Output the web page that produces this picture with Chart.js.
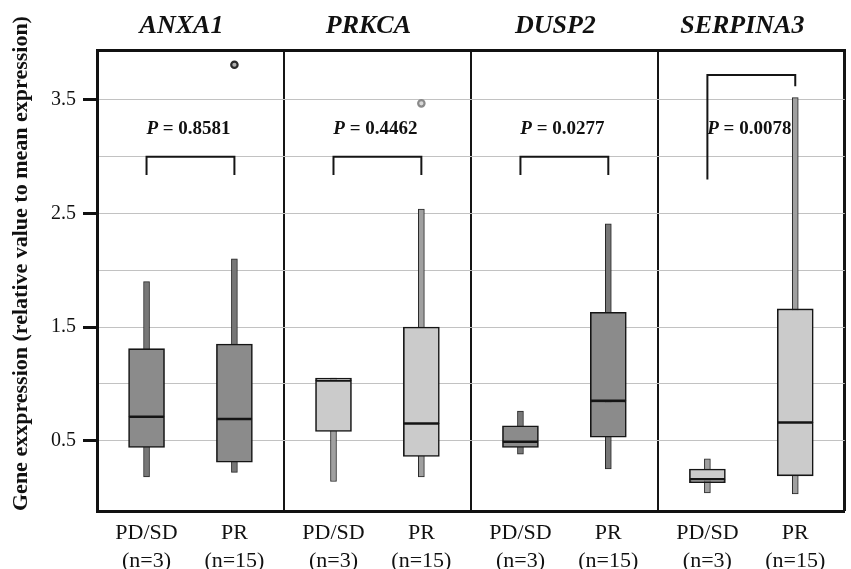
<!DOCTYPE html>
<html>
<head>
<meta charset="utf-8">
<script src="https://cdn.jsdelivr.net/npm/chart.js@4/dist/chart.umd.min.js"></script>
<style>
html,body{margin:0;padding:0;background:#ffffff;}
#wrap{width:851px;height:569px;position:relative;}
</style>
</head>
<body>
<div id="wrap"><canvas id="c"></canvas></div>
<script>
// ---- data ----
const genes = ['ANXA1', 'PRKCA', 'DUSP2', 'SERPINA3'];
const groups = ['PD/SD', 'PR'];
const groupN = ['(n=3)', '(n=15)'];

const pdsdMin    = [0.18, 0.14, 0.38, 0.04];
const pdsdQ1     = [0.44, 0.58, 0.44, 0.13];
const pdsdMedian = [0.71, 1.03, 0.49, 0.16];
const pdsdQ3     = [1.31, 1.05, 0.63, 0.25];
const pdsdMax    = [1.90, 1.05, 0.76, 0.34];

const prMin    = [0.22, 0.18, 0.25, 0.03];
const prQ1     = [0.31, 0.36, 0.53, 0.19];
const prMedian = [0.69, 0.65, 0.85, 0.66];
const prQ3     = [1.35, 1.50, 1.63, 1.66];
const prMax    = [2.10, 2.54, 2.41, 3.52];
const prOutliers = [[3.81], [3.47], [], []];

const pValues = ['0.8581', '0.4462', '0.0277', '0.0078'];
const bracketTop      = [3.00, 3.00, 3.00, 3.72];
const bracketLeftEnd  = [2.84, 2.84, 2.84, 2.80];
const bracketRightEnd = [2.84, 2.84, 2.84, 3.62];

const yGridValues = [0.5, 1.0, 1.5, 2.0, 2.5, 3.0, 3.5];
const yTickLabels = [0.5, 1.5, 2.5, 3.5];

// ---- layout / style (not data) ----
const FONT = "'Liberation Serif', 'Times New Roman', serif";
const GROUP_OFFSET = [0.265, 0.735];
const P_LABEL_Y = 3.24;
const boxFill = ['#8b8b8b', '#cbcbcb', '#8b8b8b', '#cbcbcb'];
const whiskerFill = ['#777777', '#a0a0a0', '#777777', '#a0a0a0'];
const xPos = (g, grp) => g + GROUP_OFFSET[grp];

const perBox = (fn) => genes.flatMap((_, g) => [fn(g, 0), fn(g, 1)]);
const stat = {
  min: [pdsdMin, prMin], q1: [pdsdQ1, prQ1], med: [pdsdMedian, prMedian],
  q3: [pdsdQ3, prQ3], max: [pdsdMax, prMax]
};

const datasets = [];
// lower half of box (q1 -> median)
datasets.push({
  type: 'bar', label: 'box-low', order: 2, grouped: false, barThickness: 36,
  data: perBox((g, k) => ({x: xPos(g, k), y: [stat.q1[k][g], stat.med[k][g]]})),
  backgroundColor: perBox((g) => boxFill[g]),
  borderColor: '#151515', borderWidth: 1.6, borderSkipped: false
});
// upper half of box (median -> q3)
datasets.push({
  type: 'bar', label: 'box-high', order: 2, grouped: false, barThickness: 36,
  data: perBox((g, k) => ({x: xPos(g, k), y: [stat.med[k][g], stat.q3[k][g]]})),
  backgroundColor: perBox((g) => boxFill[g]),
  borderColor: '#151515', borderWidth: 1.6, borderSkipped: false
});
// whiskers (min -> max)
datasets.push({
  type: 'bar', label: 'whisker', order: 3, grouped: false, barThickness: 6,
  data: perBox((g, k) => ({x: xPos(g, k), y: [stat.min[k][g], stat.max[k][g]]})),
  backgroundColor: perBox((g) => whiskerFill[g]),
  borderColor: '#262626', borderWidth: 1, borderSkipped: false
});
// outliers
datasets.push({
  type: 'scatter', label: 'outliers', order: 1,
  data: genes.flatMap((_, g) => prOutliers[g].map(v => ({x: xPos(g, 1), y: v}))),
  pointRadius: 3.2, pointBorderWidth: 2.2,
  pointBorderColor: ['#2a2a2a', '#8a8a8a'],
  pointBackgroundColor: ['#b0b0b0', '#d8d8d8']
});
// significance brackets
genes.forEach((_, g) => {
  datasets.push({
    type: 'line', label: 'bracket-' + genes[g], order: 1,
    data: [
      {x: xPos(g, 0), y: bracketLeftEnd[g]},
      {x: xPos(g, 0), y: bracketTop[g]},
      {x: xPos(g, 1), y: bracketTop[g]},
      {x: xPos(g, 1), y: bracketRightEnd[g]}
    ],
    borderColor: '#151515', borderWidth: 2, pointRadius: 0, fill: false, tension: 0
  });
});

const P_FONT_SIZE = 19;
const pLabelPlugin = {
  id: 'pLabels',
  afterDatasetsDraw(chart) {
    const {ctx, scales: {x, y}} = chart;
    ctx.save();
    ctx.fillStyle = '#111';
    ctx.textBaseline = 'middle';
    genes.forEach((_, g) => {
      const cx = (x.getPixelForValue(xPos(g, 0)) + x.getPixelForValue(xPos(g, 1))) / 2 - 2;
      const cy = y.getPixelForValue(P_LABEL_Y);
      ctx.font = 'italic bold ' + P_FONT_SIZE + 'px ' + FONT;
      const w1 = ctx.measureText('P').width;
      const rest = ' = ' + pValues[g];
      ctx.font = 'bold ' + P_FONT_SIZE + 'px ' + FONT;
      const w2 = ctx.measureText(rest).width;
      const sx = cx - (w1 + w2) / 2;
      ctx.font = 'italic bold ' + P_FONT_SIZE + 'px ' + FONT;
      ctx.fillText('P', sx, cy);
      ctx.font = 'bold ' + P_FONT_SIZE + 'px ' + FONT;
      ctx.fillText(rest, sx + w1, cy);
    });
    ctx.restore();
  }
};

new Chart(document.getElementById('c'), {
  type: 'bar',
  data: {datasets},
  options: {
    responsive: true,
    maintainAspectRatio: false,
    animation: false,
    layout: {padding: {left: 0, right: 5, top: 0, bottom: 0}},
    plugins: {legend: {display: false}, tooltip: {enabled: false}},
    scales: {
      x: {
        type: 'linear', position: 'bottom', min: 0, max: 4, offset: false,
        afterBuildTicks: (s) => { s.ticks = perBox((g, k) => ({value: xPos(g, k)})); },
        afterFit: (s) => { s.height = 58; },
        ticks: {
          autoSkip: false, maxRotation: 0, minRotation: 0, padding: 9,
          color: '#111', font: {family: FONT, size: 22, lineHeight: 1.24},
          callback: (v, i) => [groups[i % 2], groupN[i % 2]]
        },
        grid: {display: false, drawTicks: false},
        border: {display: true, width: 3, color: '#111'}
      },
      xt: {
        type: 'linear', position: 'top', min: 0, max: 4, offset: false,
        afterBuildTicks: (s) => { s.ticks = genes.map((_, g) => ({value: g + 0.5})); },
        afterFit: (s) => { s.height = 50; },
        ticks: {
          autoSkip: false, maxRotation: 0, minRotation: 0, padding: 9, labelOffset: -9,
          color: '#111', font: {family: FONT, size: 26, style: 'italic', weight: 'bold', lineHeight: 1.1},
          callback: (v, i) => genes[i]
        },
        grid: {
          display: true, offset: true, drawTicks: false, drawOnChartArea: true,
          color: '#151515',
          lineWidth: (ctx) => (ctx.type === 'tick' && ctx.index > 0) ? 2 : 3
        },
        border: {display: true, width: 3, color: '#111'}
      },
      y: {
        type: 'linear', min: -0.12, max: 3.94,
        afterBuildTicks: (s) => { s.ticks = yGridValues.map(v => ({value: v})); },
        afterFit: (s) => { s.width = 97; },
        ticks: {
          padding: 7, color: '#111', font: {family: FONT, size: 20},
          callback: (v) => yTickLabels.includes(v) ? v.toFixed(1) : ''
        },
        grid: {
          color: '#c2c2c2', lineWidth: 1, drawTicks: true, tickLength: 14, tickWidth: 3,
          tickColor: (ctx) => (ctx.tick && yTickLabels.includes(ctx.tick.value)) ? '#111' : 'rgba(0,0,0,0)'
        },
        border: {display: true, width: 3, color: '#111'},
        title: {
          display: true, align: 'start', text: 'Gene exxpression (relative value to mean expression)',
          color: '#111', font: {family: FONT, size: 22, weight: 'bold'}, padding: {top: 8, bottom: 0}
        }
      }
    }
  },
  plugins: [pLabelPlugin]
});
</script>
</body>
</html>
